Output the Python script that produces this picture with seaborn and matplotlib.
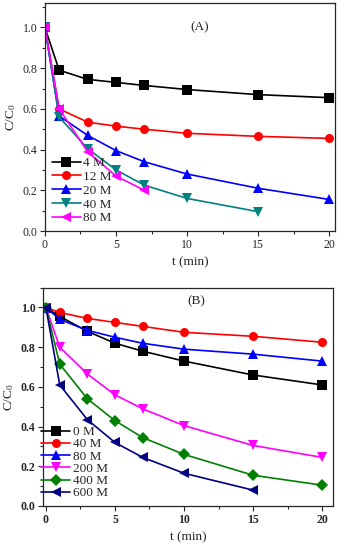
import numpy as np
import pandas as pd
import seaborn as sns
import matplotlib
matplotlib.use('Agg')
import matplotlib.pyplot as plt
from matplotlib.ticker import MultipleLocator

sns.set_style('ticks')
plt.rcParams['font.family'] = ['Liberation Serif', 'DejaVu Serif']
plt.rcParams['mathtext.fontset'] = 'custom'
plt.rcParams['mathtext.rm'] = 'Liberation Serif'
plt.rcParams['mathtext.it'] = 'Liberation Serif:italic'

# ---- data, panel (A)
t_full = [0, 1, 3, 5, 7, 10, 15, 20]
labels_a = ['4 M', '12 M', '20 M', '40 M', '80 M']
times_a = [t_full, t_full, t_full, t_full[:7], t_full[:5]]
vals_a = [
    [1.0, 0.79, 0.745, 0.73, 0.715, 0.695, 0.67, 0.655],
    [1.0, 0.60, 0.535, 0.515, 0.50, 0.48, 0.465, 0.455],
    [1.0, 0.565, 0.47, 0.395, 0.34, 0.28, 0.21, 0.155],
    [1.0, 0.56, 0.405, 0.30, 0.225, 0.16, 0.095],
    [1.0, 0.60, 0.39, 0.27, 0.20],
]
colors_a = ['black', 'red', 'blue', '#008080', 'magenta']
markers_a = ['s', 'o', '^', 'v', '<']

# ---- data, panel (B)
labels_b = ['0 M', '40 M', '80 M', '200 M', '400 M', '600 M']
times_b = [t_full, t_full, t_full, t_full, t_full, t_full[:7]]
vals_b = [
    [1.0, 0.955, 0.88, 0.82, 0.78, 0.73, 0.66, 0.61],
    [1.0, 0.975, 0.945, 0.925, 0.905, 0.875, 0.855, 0.825],
    [1.0, 0.94, 0.885, 0.85, 0.82, 0.79, 0.765, 0.73],
    [1.0, 0.80, 0.665, 0.56, 0.49, 0.405, 0.305, 0.245],
    [1.0, 0.715, 0.54, 0.43, 0.345, 0.26, 0.155, 0.105],
    [1.0, 0.61, 0.435, 0.32, 0.245, 0.165, 0.08],
]
colors_b = ['black', 'red', 'blue', 'magenta', 'green', 'navy']
markers_b = ['s', 'o', '^', 'v', 'D', '<']


def long_frame(labels, times, vals):
    rows = []
    for lab, tt, vv in zip(labels, times, vals):
        for t, v in zip(tt, vv):
            rows.append((lab, t, v))
    return pd.DataFrame(rows, columns=['series', 't', 'c'])


def panel(ax, labels, times, vals, colors, markers, tag, tag_xy, xlim, bold,
          leg_anchor, leg_space):
    df = long_frame(labels, times, vals)
    sns.lineplot(data=df, x='t', y='c', hue='series', style='series',
                 hue_order=labels, style_order=labels,
                 palette=dict(zip(labels, colors)),
                 markers=dict(zip(labels, markers)), dashes=False,
                 markersize=6.5, markeredgewidth=0, linewidth=1.2,
                 ax=ax, legend=True)
    handles, labs = ax.get_legend_handles_labels()
    weight = 'bold' if bold else 'normal'
    ax.legend(handles, labs, loc='lower left', bbox_to_anchor=leg_anchor,
              frameon=False, fontsize=9.5, handlelength=2.2, handletextpad=0.2,
              labelspacing=leg_space, borderaxespad=0.1)
    ax.set_xlim(*xlim)
    ax.set_ylim(0, 1.12 if tag == '(A)' else 1.1)
    ax.xaxis.set_major_locator(MultipleLocator(5))
    ax.xaxis.set_minor_locator(MultipleLocator(2.5))
    ax.yaxis.set_major_locator(MultipleLocator(0.2))
    ax.yaxis.set_minor_locator(MultipleLocator(0.1))
    ax.yaxis.set_major_formatter(matplotlib.ticker.FormatStrFormatter('%.1f'))
    ax.tick_params(which='major', direction='out', length=3.5, width=0.8,
                   labelsize=8.5, pad=2)
    ax.tick_params(which='minor', direction='out', length=2, width=0.8)
    for lab in ax.get_xticklabels() + ax.get_yticklabels():
        lab.set_fontweight(weight)
    for s in ax.spines.values():
        s.set_linewidth(0.9)
    ax.set_xlabel('t (min)', fontsize=9.5, labelpad=4)
    ax.set_ylabel('C/C$_0$', fontsize=9.5, labelpad=3)
    ax.text(tag_xy[0], tag_xy[1], tag, fontsize=9.5, ha='center', va='center')


fig = plt.figure(figsize=(3.51, 5.5), dpi=100)
ax_a = fig.add_axes([0.128, 0.58, 0.826, 0.4145])
ax_b = fig.add_axes([0.123, 0.08, 0.826, 0.397])

panel(ax_a, labels_a, times_a, vals_a, colors_a, markers_a, '(A)', (10.9, 1.0),
      (0, 20.4), False, (0.0, 0.0), 0.12)
panel(ax_b, labels_b, times_b, vals_b, colors_b, markers_b, '(B)', (10.9, 1.03),
      (-0.2, 20.8), True, (-0.03, 0.0), 0.0)

plt.savefig('out.png', dpi=100)
